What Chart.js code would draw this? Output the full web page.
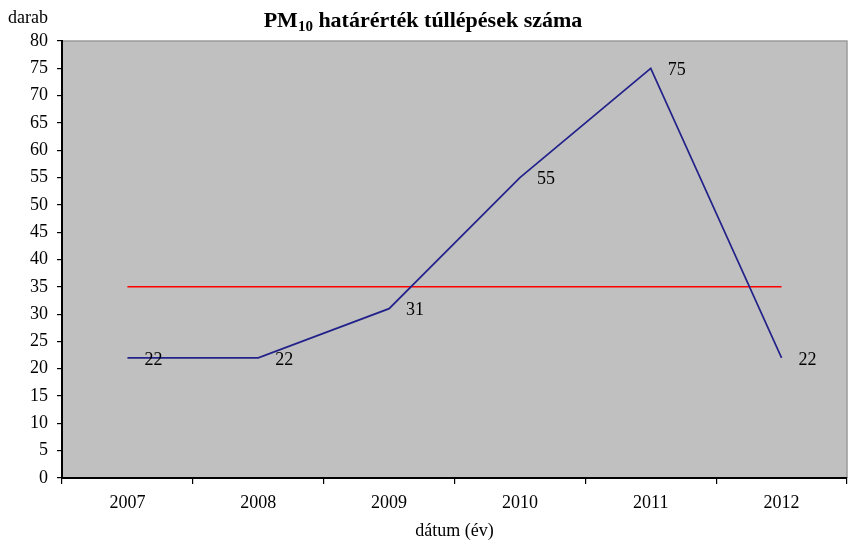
<!DOCTYPE html>
<html>
<head>
<meta charset="utf-8">
<script src="https://cdn.jsdelivr.net/npm/chart.js@4/dist/chart.umd.min.js"></script>
<style>
html,body{margin:0;padding:0;background:#fff;}
#wrap{width:861px;height:546px;position:relative;}
</style>
</head>
<body>
<div id="wrap"><canvas id="c" width="861" height="546"></canvas></div>
<script>
const categories = ['2007', '2008', '2009', '2010', '2011', '2012'];
const exceedances = [22, 22, 31, 55, 75, 22];
const limitLine = [35, 35, 35, 35, 35, 35];
const yMin = 0;
const yMax = 80;
const yStep = 5;
const titleMain = 'PM';
const titleSub = '10';
const titleRest = ' határérték túllépések száma';
const yAxisLabel = 'darab';
const xAxisLabel = 'dátum (év)';

const SERIF = '"Liberation Serif", "Times New Roman", serif';

const plotDeco = {
  id: 'plotDeco',
  beforeDraw(chart) {
    const a = chart.chartArea, ctx = chart.ctx;
    ctx.save();
    ctx.fillStyle = '#C0C0C0';
    ctx.fillRect(a.left, a.top, a.right - a.left, a.bottom - a.top);
    ctx.strokeStyle = '#9a9a9a';
    ctx.lineWidth = 1.5;
    ctx.beginPath();
    ctx.moveTo(a.left, a.top);
    ctx.lineTo(a.right, a.top);
    ctx.lineTo(a.right, a.bottom);
    ctx.stroke();
    ctx.restore();
  },
  afterDraw(chart) {
    const ctx = chart.ctx;
    ctx.save();
    ctx.fillStyle = '#000';
    ctx.textBaseline = 'alphabetic';
    const fMain = 'bold 22px ' + SERIF;
    const fSub = 'bold 15px ' + SERIF;
    ctx.font = fMain; const w1 = ctx.measureText(titleMain).width;
    ctx.font = fSub; const w2 = ctx.measureText(titleSub).width;
    ctx.font = fMain; const w3 = ctx.measureText(titleRest).width;
    const total = w1 + w2 + w3;
    let x = 423 - total / 2;
    const base = 27;
    ctx.textAlign = 'left';
    ctx.font = fMain; ctx.fillText(titleMain, x, base); x += w1;
    ctx.font = fSub; ctx.fillText(titleSub, x, base + 4); x += w2;
    ctx.font = fMain; ctx.fillText(titleRest, x, base);
    ctx.font = '18px ' + SERIF;
    ctx.fillText(yAxisLabel, 8, 23);
    const meta = chart.getDatasetMeta(0);
    ctx.font = '18px ' + SERIF;
    ctx.textBaseline = 'middle';
    meta.data.forEach((pt, i) => {
      ctx.fillText(String(exceedances[i]), pt.x + 17, pt.y + 2);
    });
    ctx.restore();
  }
};

new Chart(document.getElementById('c'), {
  type: 'line',
  data: {
    labels: categories,
    datasets: [
      {
        label: 'túllépések',
        data: exceedances,
        borderColor: '#22228a',
        borderWidth: 1.7,
        pointRadius: 0,
        tension: 0,
        fill: false
      },
      {
        label: 'határérték',
        data: limitLine,
        borderColor: '#ff0000',
        borderWidth: 1.6,
        pointRadius: 0,
        tension: 0,
        fill: false
      }
    ]
  },
  options: {
    responsive: false,
    animation: false,
    devicePixelRatio: 1,
    layout: { padding: { top: 41, right: 14, left: 0, bottom: 0 } },
    plugins: {
      legend: { display: false },
      tooltip: { enabled: false },
      title: { display: false }
    },
    scales: {
      x: {
        offset: true,
        grid: { offset: true, drawOnChartArea: false, drawTicks: true, tickLength: 6, color: '#000', lineWidth: 1.2 },
        border: { display: true, color: '#000', width: 2 },
        ticks: { color: '#000', font: { family: SERIF, size: 18 }, padding: 8, maxRotation: 0 },
        title: { display: true, text: xAxisLabel, color: '#000', font: { family: SERIF, size: 18 }, padding: { top: 0, bottom: 4 } },
        afterFit(scale) { scale.height = 68; }
      },
      y: {
        min: yMin,
        max: yMax,
        grid: { drawOnChartArea: false, drawTicks: true, tickLength: 5, color: '#000', lineWidth: 1.2 },
        border: { display: true, color: '#000', width: 2 },
        ticks: { stepSize: yStep, color: '#000', font: { family: SERIF, size: 18 }, padding: 9 },
        afterFit(scale) { scale.width = 62; }
      }
    }
  },
  plugins: [plotDeco]
});
</script>
</body>
</html>
